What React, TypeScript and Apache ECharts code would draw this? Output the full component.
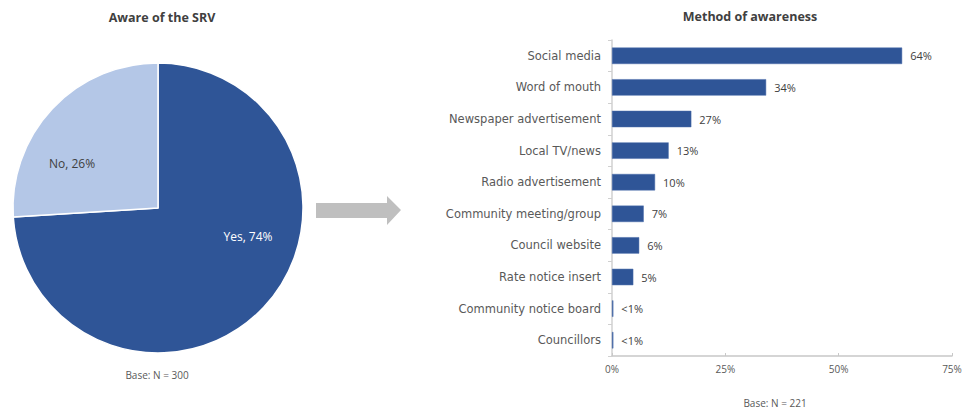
import React, { useEffect, useRef } from "react";
import * as echarts from "echarts";

const pieNames = ["Yes", "No"];
const pieValues = [74, 26];
const pieColors = ["#2F5597", "#B4C7E7"];

const categories = [
  "Social media",
  "Word of mouth",
  "Newspaper advertisement",
  "Local TV/news",
  "Radio advertisement",
  "Community meeting/group",
  "Council website",
  "Rate notice insert",
  "Community notice board",
  "Councillors",
];
const barValues = [64, 34, 17.5, 12.5, 9.5, 7, 6, 4.7, 0.3, 0.3];
const barLabels = ["64%", "34%", "27%", "13%", "10%", "7%", "6%", "5%", "<1%", "<1%"];
const xTicks = [0, 25, 50, 75];

const FONT = "'Open Sans', 'DejaVu Sans', sans-serif";
const CAT_FONT = "'DejaVu Sans', sans-serif";

export default function App() {
  const ref = useRef<HTMLDivElement>(null);
  useEffect(() => {
    document.body.style.margin = "0";
    if (!ref.current) return;
    const chart = echarts.init(ref.current, null, { renderer: "svg" });
    const labelPos: Record<number, [number, number]> = { 0: [248, 236], 1: [72, 163] };
    chart.setOption({
      animation: false,
      title: [
        {
          text: "Aware of the SRV",
          left: 157,
          top: 6,
          textAlign: "center",
          textStyle: { fontFamily: FONT, fontSize: 12.5, fontWeight: "bold", color: "#404040" },
        },
        {
          text: "Method of awareness",
          left: 745,
          top: 5,
          textAlign: "center",
          textStyle: { fontFamily: FONT, fontSize: 12.5, fontWeight: "bold", color: "#404040" },
        },
      ],
      grid: { left: 612, right: 14, top: 40, bottom: 58 },
      xAxis: {
        type: "value",
        min: 0,
        max: 75,
        interval: 25,
        axisLine: { show: true, lineStyle: { color: "#C8C8C8", width: 1.5 } },
        axisTick: { show: true, inside: true, length: 3, lineStyle: { color: "#C8C8C8" } },
        splitLine: { show: false },
        axisLabel: {
          formatter: (v: number) => (xTicks.includes(v) ? v + "%" : ""),
          fontFamily: FONT,
          fontSize: 10,
          color: "#595959",
          margin: 8,
          showMaxLabel: true,
        },
      },
      yAxis: {
        type: "category",
        inverse: true,
        data: categories,
        axisLine: { show: true, lineStyle: { color: "#D0D0D0", width: 1.5 } },
        axisTick: { show: true, length: 4, lineStyle: { color: "#D0D0D0" } },
        axisLabel: { fontFamily: CAT_FONT, fontSize: 11.5, color: "#595959", margin: 11 },
      },
      series: [
        {
          type: "pie",
          center: [158, 208],
          radius: 145,
          startAngle: 90,
          clockwise: true,
          data: pieNames.map((n, i) => ({
            name: n,
            value: pieValues[i],
            itemStyle: { color: pieColors[i] },
            label: { color: i === 0 ? "#FFFFFF" : "#404040" },
          })),
          itemStyle: { borderColor: "#FFFFFF", borderWidth: 1.5 },
          label: {
            show: true,
            position: "inside",
            formatter: (p: any) => `${p.name}, ${p.value}%`,
            fontFamily: FONT,
            fontSize: 12,
          },
          labelLine: { show: false },
          labelLayout: (p: any) => {
            const pos = labelPos[p.dataIndex];
            return { x: pos[0], y: pos[1], align: "center", verticalAlign: "middle" };
          },
          emphasis: { disabled: true },
        },
        {
          type: "bar",
          data: barValues,
          barWidth: "52%",
          itemStyle: { color: "#2F5597", borderColor: "#4A6DAA", borderWidth: 0.5 },
          label: {
            show: true,
            position: "right",
            distance: 8,
            formatter: (p: any) => barLabels[p.dataIndex],
            fontFamily: FONT,
            fontSize: 11,
            color: "#404040",
          },
          emphasis: { disabled: true },
        },
      ],
      graphic: [
        {
          type: "polygon",
          shape: {
            points: [
              [316, 203],
              [387, 203],
              [387, 196],
              [401, 210],
              [387, 225],
              [387, 218],
              [316, 218],
            ],
          },
          style: { fill: "#BFBFBF" },
        },
        {
          type: "text",
          x: 157,
          y: 375,
          style: {
            text: "Base: N = 300",
            fontFamily: FONT,
            fontSize: 10,
            fill: "#595959",
            align: "center",
            verticalAlign: "middle",
          },
        },
        {
          type: "text",
          x: 775,
          y: 403,
          style: {
            text: "Base: N = 221",
            fontFamily: FONT,
            fontSize: 10,
            fill: "#595959",
            align: "center",
            verticalAlign: "middle",
          },
        },
      ],
    });
    return () => chart.dispose();
  }, []);
  return <div ref={ref} style={{ width: 966, height: 414 }} />;
}
